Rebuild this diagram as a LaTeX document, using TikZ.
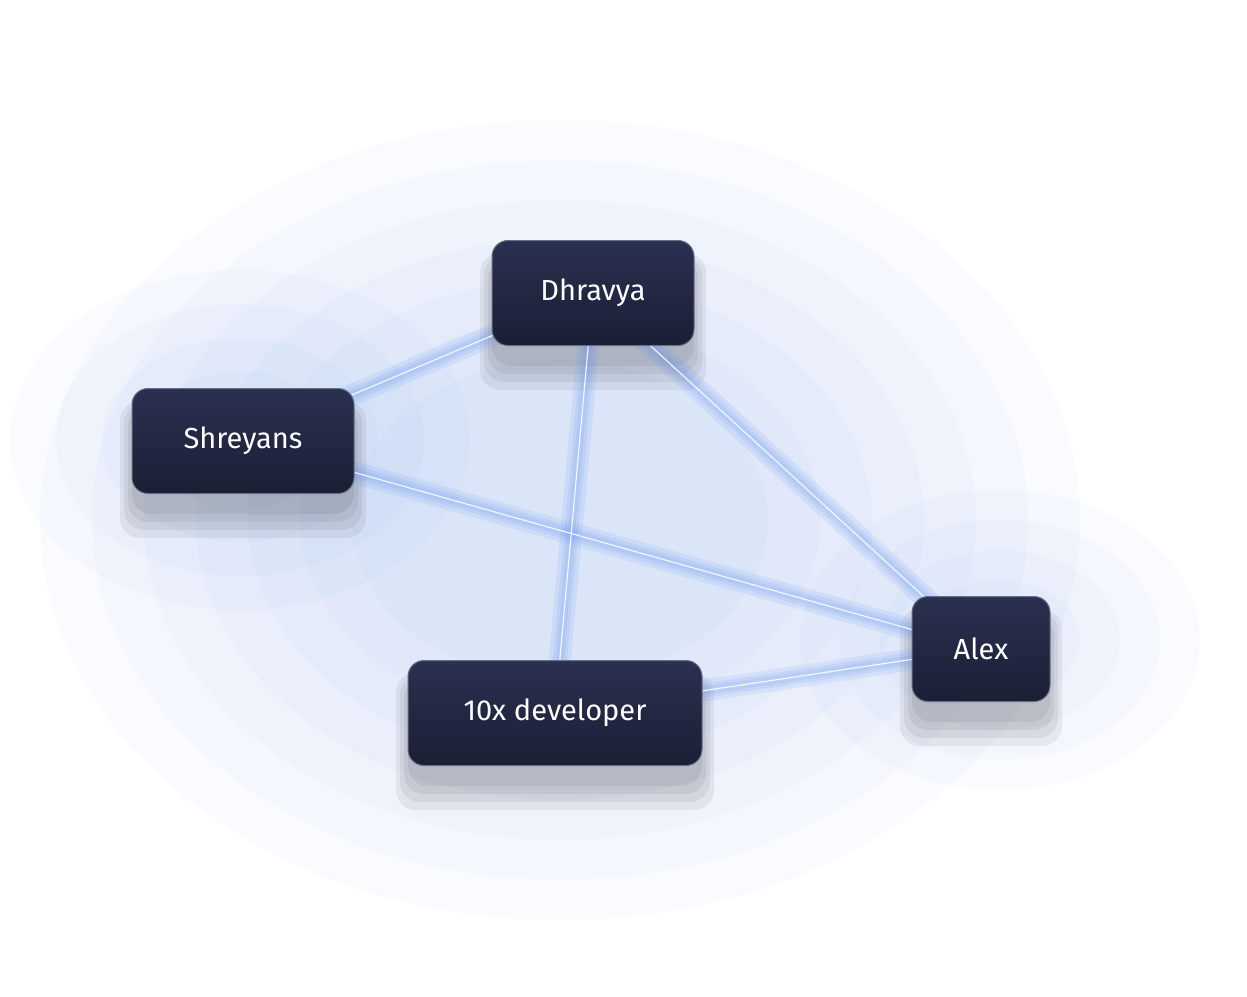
\documentclass[tikz,border=0pt]{standalone}
\usepackage{fontspec}
\setmainfont{Fira Sans}
\begin{document}
\begin{tikzpicture}[x=1pt,y=-1pt,
  person/.style={rounded corners=16pt,minimum height=105pt,text=white,font=\fontsize{29}{34}\selectfont,top color=navyA,bottom color=navyB,draw=navyA!70!white,line width=1pt,inner sep=0pt},
  glow/.style={line width=#1,draw=glowblue,opacity=0.12,line cap=round},
  edge/.style={draw=white,line width=1.1pt,opacity=0.9}]
\definecolor{navyA}{HTML}{2A3050}
\definecolor{navyB}{HTML}{1B1F35}
\definecolor{glowblue}{HTML}{5B8DF5}
\useasboundingbox (0,0) rectangle (1247,996);
\fill[white] (0,0) rectangle (1247,996);
% background glow
\foreach \r in {1,0.9,...,0.3}{
  \fill[glowblue,opacity=0.03] (560,520) ellipse ({520*\r} and {400*\r});
}
\foreach \r in {1,0.8,...,0.4}{
  \fill[glowblue,opacity=0.03] (1000,640) ellipse ({200*\r} and {150*\r});
  \fill[glowblue,opacity=0.03] (240,440) ellipse ({230*\r} and {170*\r});
}
% shadows
\foreach \s in {0,8,16,24}{
  \fill[black,opacity=0.06,rounded corners=20pt] (132-\s/2,409-\s/3) rectangle (354+\s/2,514+\s);
  \fill[black,opacity=0.06,rounded corners=20pt] (492-\s/2,261-\s/3) rectangle (694+\s/2,366+\s);
  \fill[black,opacity=0.06,rounded corners=20pt] (912-\s/2,617-\s/3) rectangle (1050+\s/2,722+\s);
  \fill[black,opacity=0.06,rounded corners=20pt] (408-\s/2,681-\s/3) rectangle (702+\s/2,786+\s);
}
\coordinate (dc) at (593,293);
\coordinate (sc) at (243,441);
\coordinate (ac) at (981,649);
\coordinate (xc) at (555,713);
% glow edges
\foreach \w in {22pt,14pt,8pt}{
  \draw[glow=\w] (sc) -- (dc);
  \draw[glow=\w] (sc) -- (ac);
  \draw[glow=\w] (dc) -- (xc);
  \draw[glow=\w] (dc) -- (ac);
  \draw[glow=\w] (xc) -- (ac);
}
\draw[edge] (sc) -- (dc);
\draw[edge] (sc) -- (ac);
\draw[edge] (dc) -- (xc);
\draw[edge] (dc) -- (ac);
\draw[edge] (xc) -- (ac);
\node[person,minimum width=202pt] (d) at (dc) {Dhravya};
\node[person,minimum width=222pt] (s) at (sc) {Shreyans};
\node[person,minimum width=138pt] (a) at (ac) {Alex};
\node[person,minimum width=294pt] (x) at (xc) {10x developer};
\end{tikzpicture}
\end{document}
